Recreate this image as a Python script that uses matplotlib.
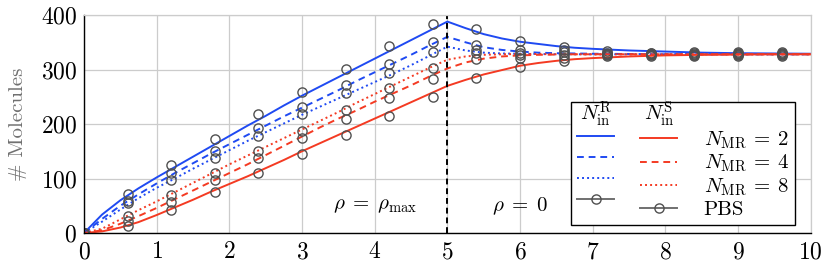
import matplotlib
matplotlib.use("Agg")
import matplotlib.pyplot as plt
from matplotlib.lines import Line2D
from matplotlib.text import Text
from matplotlib.legend_handler import HandlerBase

plt.rcParams['font.family'] = 'serif'
plt.rcParams['font.serif'] = ['cmr10']
plt.rcParams['mathtext.fontset'] = 'cm'
plt.rcParams['axes.formatter.use_mathtext'] = True

# model curves
t = [0, 0.25, 0.5, 0.75, 1.0, 1.25, 1.5, 1.75, 2.0, 2.25, 2.5, 2.75, 3.0, 3.25, 3.5, 3.75,
     4.0, 4.25, 4.5, 4.75, 5.0, 5.25, 5.5, 5.75, 6.0, 6.25, 6.5, 6.75, 7.0, 7.5, 8.0, 8.5,
     9.0, 9.5, 10.0]
r_n2 = [0, 34, 60, 82, 102, 121, 140, 159, 178, 197, 215, 234, 252, 269, 286, 303, 320, 337,
        354, 371, 388, 376, 365, 357, 351, 347, 343, 340, 338, 335, 333, 331, 330, 329.5, 329]
r_n4 = [0, 26, 50, 71, 91, 110, 128, 146, 163, 180, 197, 214, 230, 246, 262, 279, 295, 311,
        327, 344, 360, 350, 341, 336, 333, 331, 330, 329.5, 329, 328.5, 328, 328, 328, 328, 328]
r_n8 = [0, 21, 43, 64, 83, 100, 118, 135, 152, 169, 185, 201, 217, 232, 247, 262, 277, 292,
        308, 325, 342, 335, 331, 329.5, 329, 328.5, 328, 328, 328, 328, 328, 328, 328, 328, 328]
s_n2 = [0, 3, 10, 20, 33, 47, 61, 76, 90, 104, 119, 134, 150, 165, 180, 195, 210, 225, 240,
        255, 270, 281, 291, 299, 307, 312, 316, 319, 321, 324, 326, 327, 327.5, 328, 328]
s_n4 = [0, 5, 17, 31, 46, 62, 78, 94, 110, 126, 143, 160, 177, 194, 210, 225, 241, 256, 271,
        287, 302, 313, 320, 324, 326, 327, 327.5, 328, 328, 328, 328, 328, 328, 328, 328]
s_n8 = [0, 8, 25, 42, 58, 75, 92, 109, 126, 142, 158, 174, 190, 206, 222, 239, 255, 271, 287,
        303, 318, 324, 327, 328, 328.5, 328.5, 328, 328, 328, 328, 328, 328, 328, 328, 328]

# PBS samples
pbs_t = [0, 0.6, 1.2, 1.8, 2.4, 3.0, 3.6, 4.2, 4.8, 5.4, 6.0, 6.6, 7.2, 7.8, 8.4, 9.0, 9.6]
pbs_r2 = [0, 72, 125, 173, 218, 259, 301, 344, 383, 374, 352, 342, 334, 331, 333, 333, 333]
pbs_r4 = [0, 59, 110, 150, 192, 232, 272, 311, 350, 345, 336, 336, 331, 330, 331, 331, 331]
pbs_r8 = [0, 55, 97, 138, 178, 218, 257, 293, 332, 336, 331, 332, 329, 329, 329, 329, 329]
pbs_s8 = [0, 31, 70, 110, 150, 188, 226, 267, 302, 330, 327, 327, 328, 328, 327, 328, 328]
pbs_s4 = [0, 22, 57, 98, 137, 174, 210, 247, 283, 319, 322, 322, 326, 327, 326, 326, 326]
pbs_s2 = [0, 13, 42, 75, 111, 145, 180, 215, 250, 284, 305, 316, 324, 325, 324, 324, 324]

blue = '#1f4af2'
red = '#f43a22'
grey = '#505050'
styles = ['-', (0, (3.5, 2.5)), (0, (1, 1.6))]


class HeaderHandler(HandlerBase):
    def __init__(self, text):
        super().__init__()
        self.text = text

    def create_artists(self, legend, orig_handle, xdescent, ydescent, width, height,
                       fontsize, trans):
        txt = Text(width / 2 - xdescent, height / 2 - ydescent + 1, self.text,
                   ha='center', va='center', fontsize=fontsize, transform=trans)
        return [txt]


fig = plt.figure(figsize=(8.3, 2.64), dpi=100)
ax = fig.add_axes([0.1012, 0.1174, 0.8756, 0.8256])

lines_r = []
lines_s = []
for vals, ls in zip([r_n2, r_n4, r_n8], styles):
    l, = ax.plot(t, vals, color=blue, ls=ls, lw=1.4)
    lines_r.append(l)
for vals, ls in zip([s_n2, s_n4, s_n8], styles):
    l, = ax.plot(t, vals, color=red, ls=ls, lw=1.4)
    lines_s.append(l)

for vals in [pbs_r2, pbs_r4, pbs_r8, pbs_s8, pbs_s4, pbs_s2]:
    ax.plot(pbs_t, vals, ls='none', marker='o', ms=6.6, mfc='none', mec=grey, mew=1.0)

ax.axvline(5, color='k', ls=(0, (3, 2)), lw=1.4)
ax.text(4, 50, r'$\rho\;=\;\rho_{\max}$', ha='center', va='center', fontsize=15)
ax.text(6, 50, r'$\rho\;=\;0$', ha='center', va='center', fontsize=15)

ax.set_xlim(0, 10)
ax.set_ylim(0, 400)
ax.set_xticks(range(0, 11))
ax.set_yticks([0, 100, 200, 300, 400])
ax.grid(True, color='#cccccc', lw=0.9)
ax.set_axisbelow(True)
ax.tick_params(length=0, labelsize=17)
ax.tick_params(axis='y', pad=5)
ax.tick_params(axis='x', pad=6)
for s in ['top', 'right']:
    ax.spines[s].set_color('#cccccc')
    ax.spines[s].set_linewidth(0.9)
for s in ['left', 'bottom']:
    ax.spines[s].set_linewidth(1.0)
ax.set_ylabel('# Molecules', color='#707070', fontsize=15, labelpad=10)

pbs_handle = Line2D([], [], color='#707070', lw=1.4, marker='o', ms=6.6, mfc='none', mec=grey)
head_r = object()
head_s = object()
handles = [head_r] + lines_r + [pbs_handle, head_s] + lines_s + [pbs_handle]
labels = ['', '', '', '', '', ' ',
          r'$N_{\mathrm{MR}}\:=\:2$', r'$N_{\mathrm{MR}}\:=\:4$', r'$N_{\mathrm{MR}}\:=\:8$', 'PBS']
leg = ax.legend(handles, labels, ncol=2, loc='lower right', bbox_to_anchor=(0.979, 0.035),
                borderaxespad=0, fontsize=15, handlelength=1.78, handletextpad=1.25,
                columnspacing=0.0, labelspacing=0.11, borderpad=0.3, numpoints=1,
                fancybox=False, framealpha=1, edgecolor='k',
                handler_map={head_r: HeaderHandler(r'$N_{\mathrm{in}}^{\mathrm{R}}$'),
                             head_s: HeaderHandler(r'$N_{\mathrm{in}}^{\mathrm{S}}$')})
leg.get_frame().set_linewidth(1.0)

fig.savefig('out.png', dpi=100)
